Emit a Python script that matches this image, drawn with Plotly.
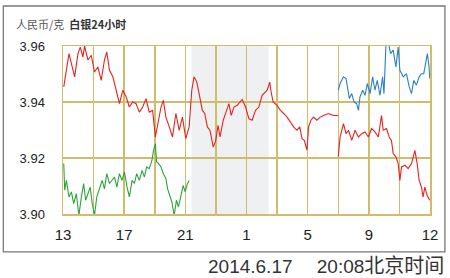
import plotly.graph_objects as go

# ---- data (hours since 13:00) ----
red_a_x = [0.05,0.18,0.39,0.55,0.76,0.98,1.13,1.30,1.41,1.63,1.85,2.06,2.28,2.5,2.71,2.86,3.04,3.26,3.47,3.69,
           3.91,4.13,4.34,4.56,4.78,4.99,5.21,5.43,5.64,5.86,6.04,6.19,6.41,6.56,6.73,6.95,7.16,7.38,7.6,7.81,
           8.03,8.25,8.42,8.57,8.75,8.9,9.11,9.27,9.44,9.61,9.83,9.99,10.14,10.27,10.48,10.7,10.85,11.0,11.18,11.39,
           11.72,11.94,12.16,12.37,12.59,12.81,13.02,13.35,13.52,13.61,13.74,14.0,14.22,14.43,14.65,14.87,15.08,15.3,15.48,15.63,
           15.78,15.95,16.06,16.21,16.39,16.6,16.82,17.04,17.36,17.69,18.01]
red_a_y = [3.9454,3.9507,3.9573,3.9537,3.949,3.9573,3.9596,3.956,3.96,3.955,3.9567,3.9507,3.9525,3.9477,3.955,3.9579,3.9513,3.949,3.9442,3.9394,
           3.9442,3.9418,3.9382,3.94,3.9394,3.9364,3.9382,3.9412,3.9364,3.937,3.9275,3.9323,3.9382,3.9406,3.9346,3.9311,3.9275,3.9359,3.9299,3.9346,
           3.9269,3.9311,3.9442,3.949,3.9471,3.943,3.937,3.9359,3.9311,3.9299,3.9239,3.9263,3.9317,3.9275,3.9335,3.937,3.9394,3.9352,3.9382,3.9388,
           3.9409,3.9382,3.934,3.9335,3.937,3.9382,3.9424,3.9442,3.9471,3.9436,3.94,3.9388,3.937,3.9359,3.9346,3.9329,3.9311,3.9299,3.9311,3.9269,
           3.9263,3.9228,3.9311,3.9335,3.9346,3.9335,3.9346,3.9352,3.9359,3.9352,3.9352]

red_b_x = [18.0,18.12,18.34,18.51,18.67,18.88,19.1,19.32,19.53,19.75,19.97,20.18,20.4,20.62,20.83,20.94,21.16,21.33,21.48,21.59,
           21.77,21.92,22.03,22.14,22.36,22.57,22.79,23.01,23.16,23.29,23.44,23.55,23.66,23.81,23.98]
red_b_y = [3.9205,3.9275,3.9323,3.9287,3.9299,3.9263,3.9299,3.9275,3.9287,3.9293,3.9275,3.9305,3.9293,3.9275,3.9352,3.9299,3.9305,3.9275,3.9263,3.9216,
           3.9204,3.918,3.912,3.9168,3.9174,3.9162,3.918,3.9227,3.918,3.912,3.9096,3.9061,3.9096,3.9067,3.9049]

green_x = [0.05,0.11,0.22,0.39,0.55,0.7,0.87,1.04,1.2,1.35,1.48,1.63,1.78,1.91,2.06,2.21,2.39,2.56,2.71,2.86,
           3.04,3.21,3.37,3.52,3.69,3.86,4.02,4.19,4.34,4.52,4.67,4.82,4.99,5.17,5.32,5.47,5.64,5.82,5.92,6.04,
           6.12,6.25,6.41,6.56,6.73,6.84,6.99,7.12,7.27,7.42,7.55,7.71,7.86,7.99,8.14,8.25]
green_y = [3.918,3.9085,3.912,3.9061,3.9079,3.9037,3.9073,3.8995,3.9061,3.9109,3.9049,3.9073,3.9096,3.9037,3.8995,3.9061,3.9096,3.912,3.909,3.9144,
           3.9109,3.912,3.9132,3.9096,3.9144,3.912,3.915,3.9096,3.9061,3.912,3.9109,3.9144,3.912,3.9156,3.9132,3.9168,3.9162,3.9192,3.9227,3.9251,
           3.9186,3.918,3.9168,3.9144,3.9126,3.909,3.9067,3.9043,3.8995,3.9049,3.9025,3.9061,3.9102,3.9079,3.9109,3.912]

blue_x = [18.0,18.12,18.34,18.51,18.6,18.73,18.88,19.03,19.2,19.32,19.42,19.6,19.75,19.9,20.08,20.25,20.4,20.55,20.73,20.9,
          20.99,21.12,21.25,21.42,21.59,21.77,21.92,22.03,22.25,22.46,22.64,22.79,22.94,23.11,23.29,23.44,23.59,23.72,23.83,23.94,23.98]
blue_y = [3.9442,3.9466,3.949,3.9484,3.9454,3.9412,3.943,3.94,3.9394,3.937,3.9418,3.9442,3.9424,3.9466,3.943,3.949,3.9442,3.9477,3.9424,3.949,
          3.943,3.9605,3.962,3.9573,3.9585,3.9525,3.9596,3.9513,3.949,3.9501,3.9454,3.943,3.9477,3.946,3.949,3.9501,3.9501,3.955,3.9573,3.9525,3.9484]

grid_vals = [0,2,4,6,8,10,12,14,16,18,20,22,24]
grid_text = ["13","","17","","21","","1","","5","","9","","12"]
y_ticks = [3.90, 3.92, 3.94, 3.96]
y_text = ["3.90", "3.92", "3.94", "3.96"]
shade_range = [8.4, 13.45]

RED, GREEN, BLUE = "#e8231f", "#2aa63a", "#2a80c8"
GRID = "#cfbd6c"
FONT = "Liberation Sans, Arial, Noto Sans CJK SC, sans-serif"

fig = go.Figure()
for xs, ys, c in [(green_x, green_y, GREEN), (red_a_x, red_a_y, RED),
                  (red_b_x, red_b_y, RED), (blue_x, blue_y, BLUE)]:
    fig.add_trace(go.Scatter(x=xs, y=ys, mode="lines", line=dict(color=c, width=1.1),
                             hoverinfo="skip", showlegend=False))

fig.add_shape(type="rect", xref="x", yref="paper", x0=shade_range[0], x1=shade_range[1],
              y0=0, y1=1, fillcolor="#eef0f2", line_width=0, layer="below")
# outer frame
fig.add_shape(type="rect", xref="paper", yref="paper", x0=-0.1626, x1=1.0407, y0=-0.226, y1=1.238,
              line=dict(color="#777777", width=1.3), fillcolor="rgba(0,0,0,0)", layer="above")

fig.add_annotation(xref="paper", yref="paper", x=-0.133, y=1.131, xanchor="left", yanchor="middle",
                   text="<span style='color:#555555'>人民币/克</span>  <b>白银24小时</b>", showarrow=False,
                   font=dict(size=11, color="#333333", family="Noto Sans CJK SC, sans-serif"))
fig.add_annotation(xref="paper", yref="paper", x=1.044, y=-0.31, xanchor="right", yanchor="middle",
                   text="2014.6.17　&nbsp;20:08<span style='font-size:20px'>北京时间</span>", showarrow=False,
                   font=dict(size=19, color="#333333", family="Liberation Sans, Noto Sans CJK SC, sans-serif"))

fig.update_layout(
    width=450, height=278, margin=dict(l=63, r=18, t=46, b=64),
    paper_bgcolor="white", plot_bgcolor="white",
    font=dict(family=FONT, color="#333333"),
    xaxis=dict(range=[0, 24], tickvals=grid_vals, ticktext=grid_text, showgrid=True,
               gridcolor=GRID, gridwidth=1.5, zeroline=False, showline=True, mirror=True,
               linecolor=GRID, linewidth=1.5, ticks="", tickfont=dict(size=15, color="#222222"),
               ticklabelstandoff=6),
    yaxis=dict(range=[3.90, 3.96], tickvals=y_ticks, ticktext=y_text, showgrid=True,
               gridcolor=GRID, gridwidth=1.5, zeroline=False, showline=True, mirror=True,
               linecolor=GRID, linewidth=1.5, ticks="", tickfont=dict(size=13, color="#222222"),
               ticklabelstandoff=14),
)

fig.write_html("out.html", config={"displayModeBar": False, "staticPlot": True},
               post_script="document.body.style.margin='0';document.body.style.overflow='hidden';")
